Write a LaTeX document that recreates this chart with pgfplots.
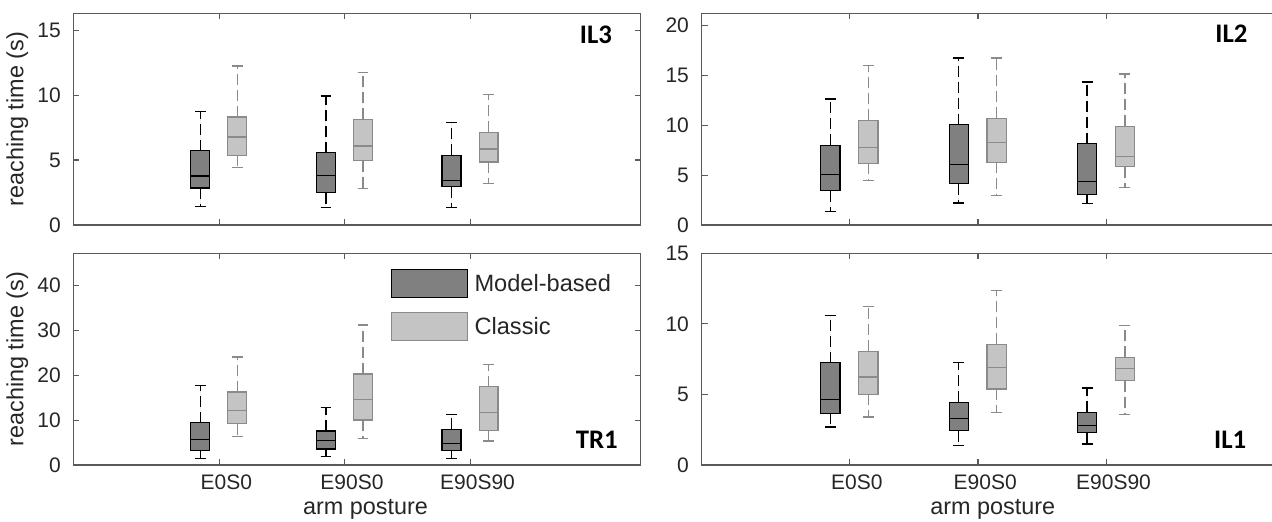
\documentclass[border=0pt]{standalone}
\usepackage{fontspec}
\setmainfont{Liberation Sans}
\newfontfamily\panelfont{Carlito}
\usepackage{pgfplots}
\pgfplotsset{compat=1.18}
\usepgfplotslibrary{statistics}

\definecolor{axcol}{HTML}{5A5A5A}
\definecolor{txtcol}{HTML}{262626}
\definecolor{mbfill}{HTML}{808080}
\definecolor{clfill}{HTML}{C4C4C4}
\definecolor{cledge}{HTML}{8A8A8A}

\tikzset{tag/.style={font=\panelfont\bfseries\fontsize{13.4}{16}\selectfont, anchor=base east, inner sep=0pt}}

\pgfplotsset{
  panel/.style={
    scale only axis, height=105.85pt,
    ymin=0, xtick={1,2,3},
    tick align=inside, xtick pos=both, ytick pos=both,
    xticklabel pos=lower, yticklabel pos=left,
    major tick length=2.9pt, minor tick num=0,
    axis line style={axcol, line width=0.55pt},
    every tick/.style={axcol, line width=0.55pt},
    tick label style={font=\fontsize{10.5}{12}\selectfont, text=txtcol, inner sep=0pt},
    yticklabel style={anchor=east, xshift=-6.2pt},
    xticklabel style={anchor=base, yshift=-12.5pt, xshift=3.6pt},
    /pgf/number format/assume math mode=true,
    label style={font=\fontsize{11.7}{14}\selectfont, text=txtcol, inner sep=0pt},
    boxplot/draw direction=y,
    boxplot/box extend=0.15, boxplot/whisker extend=0.085,
    boxplot/every whisker/.style={dash pattern=on 5.5pt off 2.5pt, line width=0.7pt},
  },
  lp/.style={panel, width=283.6pt, xmin=-0.159, xmax=4.356},
  rp/.style={panel, width=289.3pt, xmin=-0.153, xmax=4.356},
  mb/.style={draw=black, fill=mbfill, line width=0.6pt, forget plot},
  cl/.style={draw=cledge, fill=clfill, line width=0.6pt, forget plot},
}

\begin{document}
\begin{tikzpicture}
\useasboundingbox (0,0) rectangle (636pt,261pt);

% IL3 (top left)
\begin{axis}[lp, at={(36.75pt,148.5pt)}, anchor=south west,
  ymax=16.3, ytick={0,5,10,15}, xticklabels={},
  ylabel={reaching time (s)},
  ylabel style={at={(axis description cs:-0.0792,0.5)}, anchor=south}]
\addplot[mb, boxplot prepared={draw position=0.85, lower whisker=1.41, lower quartile=2.85, median=3.77, upper quartile=5.72, upper whisker=8.72}] coordinates {};
\addplot[cl, boxplot prepared={draw position=1.145, lower whisker=4.41, lower quartile=5.36, median=6.77, upper quartile=8.31, upper whisker=12.23}] coordinates {};
\addplot[mb, boxplot prepared={draw position=1.85, lower whisker=1.33, lower quartile=2.49, median=3.82, upper quartile=5.56, upper whisker=9.92}] coordinates {};
\addplot[cl, boxplot prepared={draw position=2.145, lower whisker=2.79, lower quartile=4.95, median=6.08, upper quartile=8.13, upper whisker=11.72}] coordinates {};
\addplot[mb, boxplot prepared={draw position=2.85, lower whisker=1.33, lower quartile=2.95, median=3.44, upper quartile=5.36, upper whisker=7.90}] coordinates {};
\addplot[cl, boxplot prepared={draw position=3.145, lower whisker=3.18, lower quartile=4.85, median=5.85, upper quartile=7.13, upper whisker=10.05}] coordinates {};
\node[tag] at (axis cs:4.13,14.0) {IL3};
\end{axis}

% TR1 (bottom left)
\begin{axis}[lp, at={(36.75pt,28.5pt)}, anchor=south west,
  ymax=47.2, ytick={0,10,20,30,40},
  xticklabels={E0S0,E90S0,E90S90},
  ylabel={reaching time (s)},
  ylabel style={at={(axis description cs:-0.0792,0.5)}, anchor=south},
  xlabel={arm posture},
  xlabel style={at={(axis description cs:0.515,-0.236)}, anchor=base},
  legend style={at={(axis description cs:0.559,0.926)}, anchor=north west,
    draw=none, fill=none, inner sep=0pt, outer sep=0pt, row sep=7pt,
    nodes={inner sep=0pt, text=txtcol}, cells={anchor=base west},
    font=\fontsize{11.8}{14}\selectfont}]
\addplot[mb, boxplot prepared={draw position=0.85, lower whisker=1.49, lower quartile=3.2, median=5.72, upper quartile=9.44, upper whisker=17.7}] coordinates {};
\addplot[cl, boxplot prepared={draw position=1.145, lower whisker=6.32, lower quartile=9.22, median=12.12, upper quartile=16.28, upper whisker=24.1}] coordinates {};
\addplot[mb, boxplot prepared={draw position=1.85, lower whisker=1.86, lower quartile=3.57, median=5.5, upper quartile=7.58, upper whisker=12.86}] coordinates {};
\addplot[cl, boxplot prepared={draw position=2.145, lower whisker=5.87, lower quartile=10.04, median=14.57, upper quartile=20.3, upper whisker=31.2}] coordinates {};
\addplot[mb, boxplot prepared={draw position=2.85, lower whisker=1.49, lower quartile=3.2, median=4.83, upper quartile=7.96, upper whisker=11.3}] coordinates {};
\addplot[cl, boxplot prepared={draw position=3.145, lower whisker=5.35, lower quartile=7.73, median=11.75, upper quartile=17.47, upper whisker=22.38}] coordinates {};
\addlegendimage{legend image code/.code={\draw[draw=black, fill=mbfill, line width=0.6pt] (0pt,-3pt) rectangle (38pt,11pt); \path (41.5pt,0pt);}}
\addlegendentry{Model-based}
\addlegendimage{legend image code/.code={\draw[draw=cledge, fill=clfill, line width=0.6pt] (0pt,-3pt) rectangle (38pt,11pt); \path (41.5pt,0pt);}}
\addlegendentry{Classic}
\node[tag] at (axis cs:4.176,3.64) {TR1};
\end{axis}

% IL2 (top right)
\begin{axis}[rp, at={(350.85pt,148.5pt)}, anchor=south west,
  ymax=21.2, ytick={0,5,10,15,20}, xticklabels={}]
\addplot[mb, boxplot prepared={draw position=0.85, lower whisker=1.33, lower quartile=3.43, median=5.07, upper quartile=7.97, upper whisker=12.6}] coordinates {};
\addplot[cl, boxplot prepared={draw position=1.145, lower whisker=4.47, lower quartile=6.17, median=7.73, upper quartile=10.47, upper whisker=16.0}] coordinates {};
\addplot[mb, boxplot prepared={draw position=1.85, lower whisker=2.2, lower quartile=4.13, median=6.03, upper quartile=10.03, upper whisker=16.73}] coordinates {};
\addplot[cl, boxplot prepared={draw position=2.145, lower whisker=2.93, lower quartile=6.27, median=8.3, upper quartile=10.67, upper whisker=16.73}] coordinates {};
\addplot[mb, boxplot prepared={draw position=2.85, lower whisker=2.13, lower quartile=3.07, median=4.33, upper quartile=8.13, upper whisker=14.33}] coordinates {};
\addplot[cl, boxplot prepared={draw position=3.145, lower whisker=3.73, lower quartile=5.83, median=6.87, upper quartile=9.87, upper whisker=15.13}] coordinates {};
\node[tag] at (axis cs:4.103,18.23) {IL2};
\end{axis}

% IL1 (bottom right)
\begin{axis}[rp, at={(350.85pt,28.5pt)}, anchor=south west,
  ymax=15, ytick={0,5,10,15},
  xticklabels={E0S0,E90S0,E90S90},
  xlabel={arm posture},
  xlabel style={at={(axis description cs:0.503,-0.236)}, anchor=base}]
\addplot[mb, boxplot prepared={draw position=0.85, lower whisker=2.7, lower quartile=3.67, median=4.62, upper quartile=7.25, upper whisker=10.59}] coordinates {};
\addplot[cl, boxplot prepared={draw position=1.145, lower whisker=3.39, lower quartile=5.02, median=6.23, upper quartile=8.06, upper whisker=11.23}] coordinates {};
\addplot[mb, boxplot prepared={draw position=1.85, lower whisker=1.4, lower quartile=2.44, median=3.27, upper quartile=4.45, upper whisker=7.25}] coordinates {};
\addplot[cl, boxplot prepared={draw position=2.145, lower whisker=3.72, lower quartile=5.38, median=6.92, upper quartile=8.55, upper whisker=12.37}] coordinates {};
\addplot[mb, boxplot prepared={draw position=2.85, lower whisker=1.49, lower quartile=2.3, median=2.77, upper quartile=3.72, upper whisker=5.45}] coordinates {};
\addplot[cl, boxplot prepared={draw position=3.145, lower whisker=3.58, lower quartile=5.97, median=6.82, upper quartile=7.63, upper whisker=9.88}] coordinates {};
\node[tag] at (axis cs:4.094,1.18) {IL1};
\end{axis}
\end{tikzpicture}
\end{document}
